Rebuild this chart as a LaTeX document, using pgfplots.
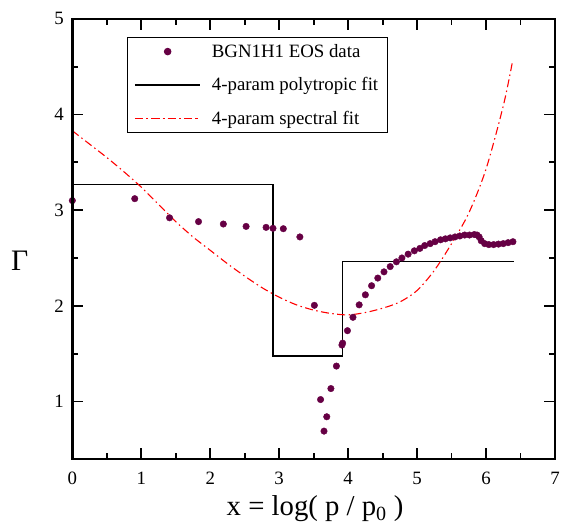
\documentclass[border=0pt]{standalone}
\usepackage{pgfplots}
\pgfplotsset{compat=1.18}
\usepackage{fontspec}
\setmainfont{Liberation Serif}
\definecolor{dotc}{RGB}{102,0,68}
\begin{document}
\begin{tikzpicture}
\begin{axis}[
  scale only axis,
  width=487pt, height=444pt,
  xmin=0, xmax=7, ymin=0.4, ymax=5,
  xtick={0,1,...,7}, ytick={1,2,3,4,5},
  minor tick num=1,
  tick align=inside,
  major tick length=11pt, minor tick length=6pt,
  axis line style={draw=none},
  tick style={line width=1.8pt, black},
  /pgf/number format/assume math mode=true,
  tick label style={font=\fontsize{19}{21}\selectfont},
  xticklabel style={yshift=-10pt},
  yticklabel style={xshift=-5pt},
  xlabel={x = log( p / p\textsubscript{0} )},
  ylabel={Γ},
  xlabel style={font=\fontsize{29}{31}\selectfont, at={(axis description cs:0.503,-0.113)}, anchor=center},
  ylabel style={font=\fontsize{30}{32}\selectfont, at={(axis description cs:-0.109,0.45)}, anchor=center, rotate=-90},
  legend cell align=left,
  legend style={at={(axis description cs:0.113,0.959)}, anchor=north west,
    font=\fontsize{19}{22}\selectfont, draw=black, line width=1pt,
    row sep=15pt, column sep=9pt, inner xsep=7pt, inner ysep=5pt},
  legend image code/.code={\draw[mark repeat=2,mark phase=2,#1] plot coordinates {(0pt,0pt) (33pt,0pt) (66pt,0pt)};},
  clip=false,
]
\addplot[only marks, mark=*, mark size=3.3pt, color=dotc] coordinates {
(0.00,3.10) (0.905,3.12) (1.41,2.92) (1.83,2.88) (2.19,2.855) (2.52,2.83)
(2.81,2.82) (2.91,2.81) (3.06,2.806) (3.30,2.72) (3.51,2.005)
(3.60,1.02) (3.65,0.69) (3.69,0.84) (3.75,1.135) (3.83,1.37) (3.91,1.59)
(3.92,1.61) (3.99,1.74) (4.07,1.88) (4.16,2.01) (4.25,2.115) (4.34,2.21)
(4.43,2.29) (4.52,2.355) (4.61,2.41) (4.70,2.46) (4.78,2.50) (4.87,2.54)
(4.96,2.575) (5.04,2.60) (5.11,2.63) (5.19,2.65) (5.26,2.67) (5.34,2.69)
(5.41,2.70) (5.48,2.71) (5.55,2.72) (5.62,2.73) (5.69,2.74) (5.76,2.74)
(5.83,2.745) (5.87,2.74) (5.90,2.72) (5.93,2.68) (5.98,2.65) (6.04,2.64)
(6.11,2.64) (6.18,2.645) (6.25,2.65) (6.32,2.66) (6.39,2.67)
};
\addplot[black, line width=1.3pt] coordinates {
(0,3.265) (2.91,3.265) (2.91,1.475) (3.92,1.475) (3.92,2.465) (6.40,2.465)
};
\addplot[red, line width=1.1pt, smooth, dash pattern=on 8pt off 3.5pt on 1.5pt off 3.5pt] coordinates {
(0,3.83) (0.25,3.69) (0.5,3.55) (0.75,3.40) (1.0,3.24) (1.25,3.06) (1.5,2.88)
(1.75,2.72) (2.0,2.58) (2.25,2.44) (2.5,2.31) (2.75,2.19) (3.0,2.09) (3.25,2.01)
(3.5,1.955) (3.75,1.92) (4.0,1.905) (4.25,1.93) (4.5,1.975) (4.75,2.04)
(5.0,2.16) (5.25,2.37) (5.5,2.65) (5.75,2.97) (6.0,3.43) (6.25,4.09) (6.38,4.54)
};
\legend{BGN1H1 EOS data, 4-param polytropic fit, 4-param spectral fit}
\end{axis}
\draw[line width=2.4pt] (current axis.south west) rectangle (current axis.north east);
\path ([xshift=-73pt,yshift=-70pt]current axis.south west) rectangle ([xshift=3pt,yshift=19pt]current axis.north east);
\end{tikzpicture}
\end{document}
